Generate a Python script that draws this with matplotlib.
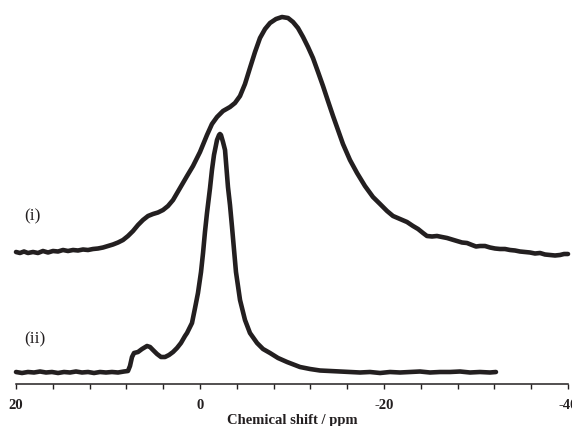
import matplotlib
matplotlib.use("Agg")
import matplotlib.pyplot as plt
from matplotlib.ticker import MultipleLocator, FixedLocator

# ---- data (chemical shift in ppm, intensity in a.u.) ----
ppm_i = [20.00, 19.57, 19.13, 18.70, 18.15, 17.61, 17.07, 16.52, 15.98, 15.43,
         14.89, 14.35, 13.80, 13.26, 12.72, 12.17, 11.63, 11.09, 10.54, 10.00,
         9.46, 8.91, 8.37, 7.83, 7.28, 6.74, 6.20, 5.65, 5.11, 4.57,
         4.02, 3.48, 2.93, 2.17, 1.41, 0.76, 0.00, -0.76, -1.30, -1.85,
         -2.50, -3.26, -3.80, -4.35, -4.89, -5.43, -5.98, -6.52, -7.07, -7.61,
         -8.26, -8.91, -9.57, -10.11, -10.65, -11.20, -11.74, -12.28, -12.83, -13.37,
         -13.91, -14.46, -15.00, -15.54, -16.30, -17.07, -17.93, -18.80, -19.57, -20.33,
         -20.98, -21.74, -22.50, -23.15, -23.70, -24.24, -24.67, -25.22, -25.76, -26.30,
         -26.85, -27.39, -27.93, -28.48, -29.02, -29.57, -30.00, -30.43, -30.98, -31.52,
         -32.07, -32.61, -33.15, -33.70, -34.24, -34.78, -35.33, -35.87, -36.41, -36.96,
         -37.50, -38.04, -38.59, -39.13, -39.57, -40.00]
int_i = [0, -1, 0.5, -1, 0, -1, 1, -0.5, 1, 0.5,
         2, 1, 2, 1.5, 2.5, 2, 3, 3.5, 4.5, 6,
         7.5, 9.5, 12, 16, 21, 27, 32, 36, 38, 39.5,
         42, 46, 52, 64, 76, 86, 100, 117, 128, 135,
         141, 145, 149, 156, 168, 184, 200, 214, 223, 229,
         233, 235, 234, 230, 224, 215, 205, 194, 180, 166,
         151, 136, 122, 108, 92, 79, 66, 55, 48, 41,
         36, 33, 30, 26, 23, 19, 16, 15.5, 16, 15,
         14, 12.5, 11, 9.5, 9, 7, 5.5, 6, 6, 4.5,
         3.5, 3, 3, 2, 1.5, 0.5, 0, -0.5, -1.5, -1,
         -2.5, -3, -3.5, -3, -2, -2]

ppm_ii = [20.00, 19.35, 18.70, 18.04, 17.39, 16.74, 16.09, 15.43, 14.78, 14.13,
          13.48, 12.83, 12.17, 11.52, 10.87, 10.22, 9.57, 8.91, 8.26, 7.83,
          7.61, 7.39, 7.17, 6.74, 6.30, 5.76, 5.43, 5.11, 4.67, 4.24,
          3.80, 3.37, 2.93, 2.50, 2.07, 1.63, 1.41, 0.87, 0.54, 0.22,
          -0.11, -0.33, -0.54, -0.76, -1.09, -1.30, -1.52, -1.85, -2.07, -2.17,
          -2.28, -2.50, -2.72, -3.04, -3.26, -3.48, -3.70, -3.91, -4.35, -4.89,
          -5.43, -6.20, -6.85, -7.61, -8.48, -9.46, -10.87, -11.96, -13.04, -14.13,
          -15.22, -16.30, -17.39, -18.48, -19.57, -20.65, -21.74, -22.83, -23.91, -25.00,
          -26.09, -27.17, -28.26, -29.35, -30.43, -31.52, -32.17]
int_ii = [0, -1, 0, -0.5, 0.5, -0.5, 0, -1, 0, -0.5,
          0.5, -0.5, 0, -1, 0, -0.5, 0, -0.5, 0.5, 1,
          6, 15, 19, 20, 23, 26, 25, 22, 18, 15,
          15, 17, 20, 24, 29, 36, 39, 49, 64, 79,
          100, 119, 140, 159, 184, 202, 217, 232, 237, 238,
          237, 230, 222, 185, 167, 145, 122, 100, 72, 52,
          39, 29, 23, 19, 14, 10, 5, 3, 1.5, 1,
          0.5, 0, -0.5, 0, -1, 0, -0.5, 0, 0.5, -0.5,
          0, 0, 0.5, -0.5, 0, -0.5, 0]

labels = ["(i)", "(ii)"]
major_ticks = [20, 0, -20, -40]
tick_labels = ["20", "0", "-20", "-40"]
xlabel = "Chemical shift / ppm"

# ---- figure ----
W, H, DPI = 572, 426, 100
fig = plt.figure(figsize=(W / DPI, H / DPI), dpi=DPI)
ax = fig.add_axes([16 / W, (H - 384) / H, 552 / W, 384 / H])
ax.set_xlim(20, -40)
ax.set_ylim(4, 388)

col = "#231f20"
offset_i, offset_ii = 136, 16
ax.plot(ppm_i, [v + offset_i for v in int_i], color=col, lw=3.3,
        solid_capstyle="round", solid_joinstyle="round", clip_on=False)
ax.plot(ppm_ii, [v + offset_ii for v in int_ii], color=col, lw=3.3,
        solid_capstyle="round", solid_joinstyle="round", clip_on=False)

serif = ["Liberation Serif", "DejaVu Serif"]
ax.text(18.25, 172, labels[0], fontsize=12.5, family=serif, color=col,
        ha="center", va="center")
ax.text(17.95, 49, labels[1], fontsize=12.5, family=serif, color=col,
        ha="center", va="center")

for s in ["top", "left", "right"]:
    ax.spines[s].set_visible(False)
ax.spines["bottom"].set_linewidth(1.1)
ax.spines["bottom"].set_color(col)
ax.set_yticks([])
ax.xaxis.set_major_locator(FixedLocator(major_ticks))
ax.xaxis.set_minor_locator(MultipleLocator(4))
ax.set_xticklabels(tick_labels, fontsize=10.5, family=serif, fontweight="bold")
ax.tick_params(axis="x", which="both", direction="out", length=3.5, width=1.0,
               color=col, pad=7, labelcolor=col)
ax.set_xlabel(xlabel, fontsize=10.5, family=serif, fontweight="bold",
              color=col, labelpad=2)
ax.patch.set_alpha(0)

fig.savefig("out.png", dpi=DPI)
